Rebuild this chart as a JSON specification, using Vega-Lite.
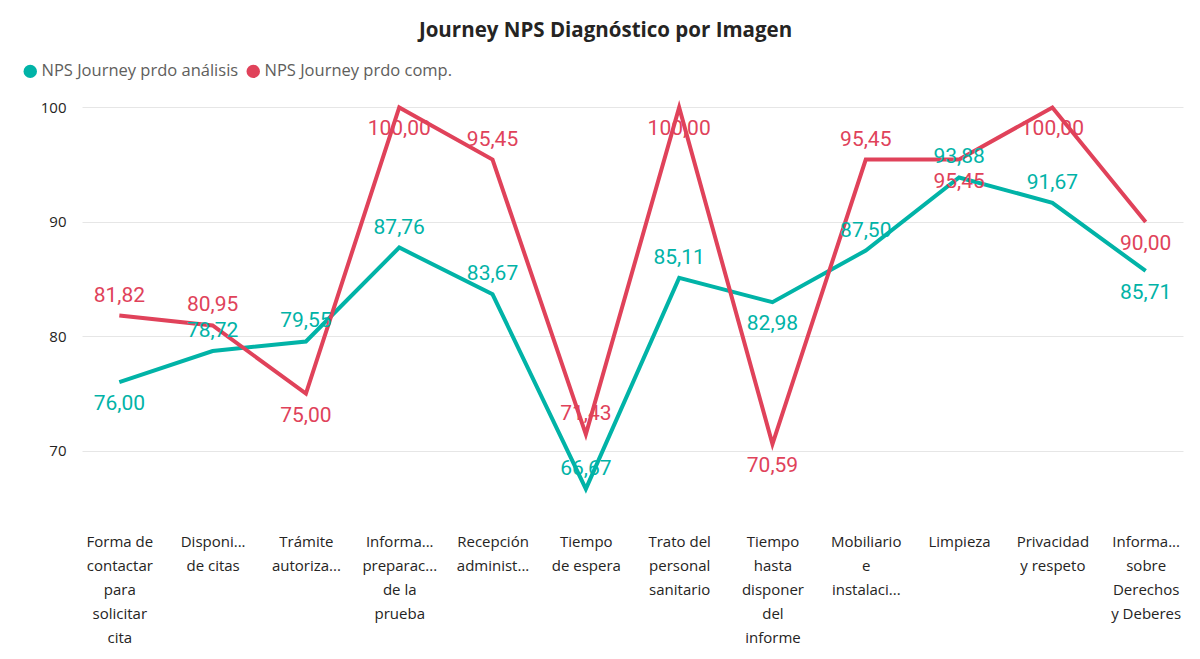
{
  "$schema": "https://vega.github.io/schema/vega-lite/v6.json",
  "width": 1101,
  "height": 412,
  "autosize": {"type": "none"},
  "padding": {"left": 82, "top": 96, "right": 17, "bottom": 151},
  "background": "white",
  "title": {
    "text": "Journey NPS Diagnóstico por Imagen",
    "font": "Open Sans",
    "fontSize": 20.5,
    "fontWeight": "bold",
    "color": "#252423",
    "anchor": "middle",
    "dx": -27,
    "offset": 22
  },
  "config": {
    "locale": {
      "number": {"decimal": ",", "thousands": ".", "grouping": [3], "currency": ["", " €"]}
    },
    "view": {"stroke": null}
  },
  "data": {
    "values": [
      {"categoria": "Forma de contactar para solicitar cita", "serie": "NPS Journey prdo análisis", "valor": 76.00},
      {"categoria": "Disponibilidad de citas", "serie": "NPS Journey prdo análisis", "valor": 78.72},
      {"categoria": "Trámite autorización", "serie": "NPS Journey prdo análisis", "valor": 79.55},
      {"categoria": "Información preparación de la prueba", "serie": "NPS Journey prdo análisis", "valor": 87.76},
      {"categoria": "Recepción administrativa", "serie": "NPS Journey prdo análisis", "valor": 83.67},
      {"categoria": "Tiempo de espera", "serie": "NPS Journey prdo análisis", "valor": 66.67},
      {"categoria": "Trato del personal sanitario", "serie": "NPS Journey prdo análisis", "valor": 85.11},
      {"categoria": "Tiempo hasta disponer del informe", "serie": "NPS Journey prdo análisis", "valor": 82.98},
      {"categoria": "Mobiliario e instalaciones", "serie": "NPS Journey prdo análisis", "valor": 87.50},
      {"categoria": "Limpieza", "serie": "NPS Journey prdo análisis", "valor": 93.88},
      {"categoria": "Privacidad y respeto", "serie": "NPS Journey prdo análisis", "valor": 91.67},
      {"categoria": "Información sobre Derechos y Deberes", "serie": "NPS Journey prdo análisis", "valor": 85.71},
      {"categoria": "Forma de contactar para solicitar cita", "serie": "NPS Journey prdo comp.", "valor": 81.82},
      {"categoria": "Disponibilidad de citas", "serie": "NPS Journey prdo comp.", "valor": 80.95},
      {"categoria": "Trámite autorización", "serie": "NPS Journey prdo comp.", "valor": 75.00},
      {"categoria": "Información preparación de la prueba", "serie": "NPS Journey prdo comp.", "valor": 100.00},
      {"categoria": "Recepción administrativa", "serie": "NPS Journey prdo comp.", "valor": 95.45},
      {"categoria": "Tiempo de espera", "serie": "NPS Journey prdo comp.", "valor": 71.43},
      {"categoria": "Trato del personal sanitario", "serie": "NPS Journey prdo comp.", "valor": 100.00},
      {"categoria": "Tiempo hasta disponer del informe", "serie": "NPS Journey prdo comp.", "valor": 70.59},
      {"categoria": "Mobiliario e instalaciones", "serie": "NPS Journey prdo comp.", "valor": 95.45},
      {"categoria": "Limpieza", "serie": "NPS Journey prdo comp.", "valor": 95.45},
      {"categoria": "Privacidad y respeto", "serie": "NPS Journey prdo comp.", "valor": 100.00},
      {"categoria": "Información sobre Derechos y Deberes", "serie": "NPS Journey prdo comp.", "valor": 90.00}
    ]
  },
  "encoding": {
    "x": {
      "field": "categoria",
      "type": "nominal",
      "sort": null,
      "scale": {"type": "point", "padding": 0.4},
      "axis": {
        "title": null,
        "domain": false,
        "ticks": false,
        "labelAngle": 0,
        "labelFont": "Open Sans",
        "labelFontSize": 15,
        "labelColor": "#252423",
        "labelPadding": 33,
        "labelLineHeight": 24,
        "labelBaseline": "middle",
        "labelAlign": "center",
        "labelLimit": 0,
        "labelExpr": "datum.value == 'Forma de contactar para solicitar cita' ? ['Forma de','contactar','para','solicitar','cita'] : datum.value == 'Disponibilidad de citas' ? ['Disponi...','de citas'] : datum.value == 'Trámite autorización' ? ['Trámite','autoriza...'] : datum.value == 'Información preparación de la prueba' ? ['Informa...','preparac...','de la','prueba'] : datum.value == 'Recepción administrativa' ? ['Recepción','administ...'] : datum.value == 'Tiempo de espera' ? ['Tiempo','de espera'] : datum.value == 'Trato del personal sanitario' ? ['Trato del','personal','sanitario'] : datum.value == 'Tiempo hasta disponer del informe' ? ['Tiempo','hasta','disponer','del','informe'] : datum.value == 'Mobiliario e instalaciones' ? ['Mobiliario','e','instalaci...'] : datum.value == 'Privacidad y respeto' ? ['Privacidad','y respeto'] : datum.value == 'Información sobre Derechos y Deberes' ? ['Informa...','sobre','Derechos','y Deberes'] : datum.value"
      }
    },
    "y": {
      "field": "valor",
      "type": "quantitative",
      "scale": {"domain": [65, 101], "nice": false, "zero": false},
      "axis": {
        "title": null,
        "values": [70, 80, 90, 100],
        "domain": false,
        "ticks": false,
        "labelFont": "Open Sans",
        "labelFontSize": 15,
        "labelColor": "#252423",
        "labelPadding": 16,
        "gridColor": "#E6E6E6",
        "gridWidth": 1
      }
    },
    "color": {
      "field": "serie",
      "type": "nominal",
      "scale": {
        "domain": ["NPS Journey prdo análisis", "NPS Journey prdo comp."],
        "range": ["#01B3A7", "#E0425A"]
      }
    }
  },
  "layer": [
    {
      "mark": {"type": "line", "strokeWidth": 4, "strokeJoin": "miter", "strokeCap": "butt"},
      "encoding": {
        "color": {
          "field": "serie",
          "type": "nominal",
          "scale": {
            "domain": ["NPS Journey prdo análisis", "NPS Journey prdo comp."],
            "range": ["#01B3A7", "#E0425A"]
          },
          "legend": {
            "title": null,
            "orient": "none",
            "direction": "horizontal",
            "legendX": -60,
            "legendY": -33,
            "symbolType": "circle",
            "symbolSize": 180,
            "symbolStrokeWidth": 0,
            "labelFont": "Open Sans",
            "labelFontSize": 16.5,
            "labelColor": "#605E5C",
            "labelOffset": 3,
            "labelLimit": 0,
            "columnPadding": 6,
            "encode": {
              "symbols": {
                "update": {
                  "fill": {"scale": "color", "field": "value"},
                  "fillOpacity": {"value": 1},
                  "strokeWidth": {"value": 0}
                }
              }
            }
          }
        }
      }
    },
    {
      "transform": [
        {"filter": "!((datum.serie == 'NPS Journey prdo análisis' && indexof(['Forma de contactar para solicitar cita','Tiempo hasta disponer del informe','Información sobre Derechos y Deberes'], datum.categoria) >= 0) || (datum.serie == 'NPS Journey prdo comp.' && indexof(['Trámite autorización','Información preparación de la prueba','Trato del personal sanitario','Tiempo hasta disponer del informe','Limpieza','Privacidad y respeto','Información sobre Derechos y Deberes'], datum.categoria) >= 0))"}
      ],
      "mark": {"type": "text", "font": "Roboto", "fontSize": 21, "baseline": "middle", "dy": -20},
      "encoding": {
        "text": {"field": "valor", "type": "quantitative", "format": ".2f"},
        "color": {"field": "serie", "type": "nominal", "legend": null}
      }
    },
    {
      "transform": [
        {"filter": "(datum.serie == 'NPS Journey prdo análisis' && indexof(['Forma de contactar para solicitar cita','Tiempo hasta disponer del informe','Información sobre Derechos y Deberes'], datum.categoria) >= 0) || (datum.serie == 'NPS Journey prdo comp.' && indexof(['Trámite autorización','Información preparación de la prueba','Trato del personal sanitario','Tiempo hasta disponer del informe','Limpieza','Privacidad y respeto','Información sobre Derechos y Deberes'], datum.categoria) >= 0)"}
      ],
      "mark": {"type": "text", "font": "Roboto", "fontSize": 21, "baseline": "middle", "dy": 22},
      "encoding": {
        "text": {"field": "valor", "type": "quantitative", "format": ".2f"},
        "color": {"field": "serie", "type": "nominal", "legend": null}
      }
    }
  ]
}
